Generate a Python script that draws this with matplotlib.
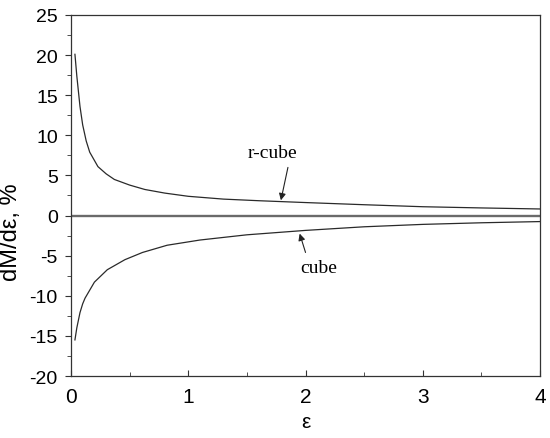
import matplotlib
matplotlib.use("Agg")
import matplotlib.pyplot as plt

# values
eps_r = [0.034, 0.05, 0.077, 0.1, 0.13, 0.16, 0.23, 0.3, 0.37, 0.5, 0.63, 0.8, 1.0, 1.3, 1.6, 2.0, 2.5, 3.0, 3.5, 4.0]
r_cube = [20.1, 17.4, 13.6, 11.3, 9.3, 7.9, 6.1, 5.2, 4.5, 3.8, 3.25, 2.8, 2.4, 2.05, 1.85, 1.62, 1.35, 1.1, 0.95, 0.82]

eps_c = [0.034, 0.05, 0.077, 0.1, 0.12, 0.2, 0.31, 0.46, 0.61, 0.82, 1.1, 1.5, 2.0, 2.5, 3.0, 3.5, 4.0]
cube = [-15.5, -14.0, -12.1, -11.0, -10.3, -8.3, -6.75, -5.5, -4.6, -3.7, -3.05, -2.4, -1.85, -1.4, -1.1, -0.9, -0.75]

plt.rcParams['font.family'] = ['Liberation Sans', 'DejaVu Sans']
plt.rcParams['axes.unicode_minus'] = False

fig = plt.figure(figsize=(5.5, 4.39), dpi=100)
ax = fig.add_axes([0.129, 0.1412, 0.853, 0.8224])

ax.axhline(0, color='#6a6a6a', lw=1.7, zorder=1)
ax.plot(eps_r, r_cube, color='#2a2a2a', lw=0.9)
ax.plot(eps_c, cube, color='#2a2a2a', lw=0.9)

ax.set_xlim(0, 4)
ax.set_ylim(-20, 25)
ax.set_xticks([0, 1, 2, 3, 4])
ax.set_xticks([0.5, 1.5, 2.5, 3.5], minor=True)
ax.set_yticks(range(-20, 26, 5))
ax.set_yticks([-17.5, -12.5, -7.5, -2.5, 2.5, 7.5, 12.5, 17.5, 22.5], minor=True)
ax.tick_params(axis='x', which='both', direction='in', top=False, labelsize=15, color='#333333', pad=8)
ax.tick_params(axis='y', which='both', direction='out', right=False, labelsize=14, color='#333333', pad=5)
ax.tick_params(which='major', length=4.5)
ax.tick_params(which='minor', length=3)
for s in ax.spines.values():
    s.set_color('#333333')
    s.set_linewidth(0.9)

ax.set_xlabel('ε', fontsize=15, labelpad=4)
ax.set_ylabel('dM/dε, %', fontsize=17)
ax.yaxis.set_label_coords(-0.104, 0.40)

ax.text(1.72, 7.9, 'r-cube', ha='center', va='center', family='Liberation Serif', fontsize=14)
ax.text(2.11, -6.5, 'cube', ha='center', va='center', family='Liberation Serif', fontsize=14)
arrow = dict(arrowstyle='-|>', color='#222222', lw=0.8, mutation_scale=10, shrinkA=0, shrinkB=0)
ax.annotate('', xy=(1.79, 1.9), xytext=(1.85, 6.0), arrowprops=arrow)
ax.annotate('', xy=(1.95, -2.25), xytext=(2.0, -4.6), arrowprops=arrow)

fig.savefig('out.png', dpi=100)
